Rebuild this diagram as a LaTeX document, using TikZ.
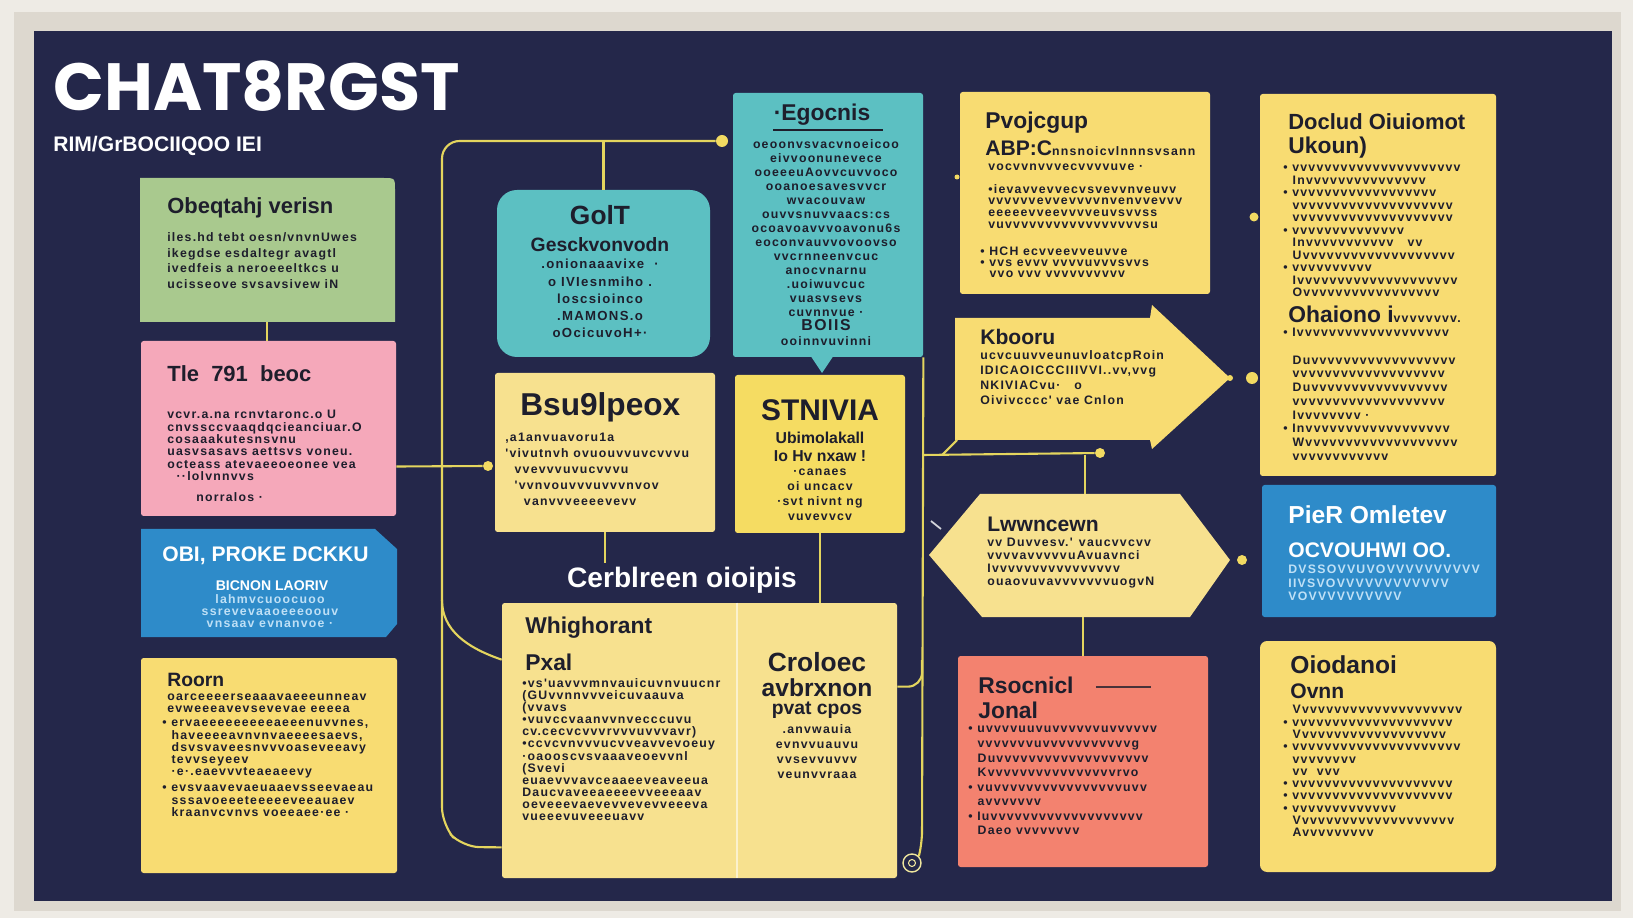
\documentclass[tikz,border=0pt]{standalone}
\usepackage{fontspec}
\setmainfont{Liberation Sans}
\newfontfamily\titlefont{Poppins}
\newfontfamily\bodyfont{Liberation Sans}[LetterSpace=10]
\usetikzlibrary{positioning,fit,calc}

\definecolor{paper}{HTML}{EEEBE5}
\definecolor{rim}{HTML}{DDD8CF}
\definecolor{navy}{HTML}{24274A}
\definecolor{cgreen}{HTML}{A9C98E}
\definecolor{cpink}{HTML}{F5A8BA}
\definecolor{cblue}{HTML}{2E8BC9}
\definecolor{cyel}{HTML}{F8DC72}
\definecolor{cpale}{HTML}{F7E18F}
\definecolor{cbright}{HTML}{F5DC62}
\definecolor{cteal}{HTML}{5CC0C2}
\definecolor{csalmon}{HTML}{F3826F}
\definecolor{wire}{HTML}{E4D55E}
\definecolor{wiredot}{HTML}{F2DA62}
\definecolor{ink}{HTML}{1E1E2C}
\definecolor{bluetxt}{HTML}{BFE0F6}

\tikzset{
	wire/.style={draw=wire, line width=1.2pt},
	card/.style={inner sep=0pt, rounded corners=1.5pt},
	head/.style={font=\bfseries\fontsize{#1}{#1}\selectfont, text=ink, inner sep=0pt, anchor=west},
	head/.default=12,
	body/.style={font=\bodyfont\bfseries\fontsize{7}{#1}\selectfont, text=ink, inner sep=0pt, align=left, anchor=north west},
	body/.default=7.5,
	midbody/.style={body=#1, align=center, anchor=north},
	midbody/.default=8,
	dot/.style={circle, fill=wiredot, inner sep=0pt, minimum size=#1},
	dot/.default=0.2cm
}

\begin{document}
\begin{tikzpicture}[x=0.02cm, y=-0.02cm]
	\useasboundingbox (0,0) rectangle (1633,918);
	\fill[paper] (0,0) rectangle (1633,918);
	\fill[rim] (14,12) rectangle (1621,911);
	\fill[navy] (34,31) rectangle (1612,901);

	% title
	\node[font=\titlefont\bfseries\fontsize{38}{40}\selectfont, text=white, anchor=west, inner sep=0pt] (title) at (53,86) {CHAT8RGST};
	\node[font=\bfseries\fontsize{12}{14}\selectfont, text=white, anchor=west, inner sep=0pt] (subtitle) at (53,146) {RIM/GrBOCIIQOO IEI};

	% cards, left column
	\fill[cgreen] (140,322) -- (140,178) -- (383,178) .. controls (395,178) .. (395,190) -- (395,322) -- cycle;
	\node[fit={(140,178) (395,322)}, inner sep=0pt] (green) {};
	\node[card, fill=cpink, fit={(141,341) (396,516)}] (pink) {};
	\fill[cblue] (141,529) -- (375,529) -- (397,549) -- (397,624) -- (386,637) -- (141,637) -- cycle;
	\node[fit={(141,529) (397,637)}, inner sep=0pt] (blueL) {};
	\node[card, fill=cyel, fit={(141,658) (397,873)}] (roorn) {};

	% cards, middle
	\node[card, fill=cteal, rounded corners=0.4cm, fit={(497,190) (710,357)}] (golf) {};
	\node[card, fill=cteal, fit={(733,93) (923,357)}] (egc) {};
	\fill[cteal] (810,355) -- (822,373) -- (834,355) -- cycle;
	\node[card, fill=cpale, fit={(495,373) (715,532)}] (bsv) {};
	\node[card, fill=cbright, fit={(735,375) (905,533)}] (stn) {};
	\node[card, fill=cpale, fit={(502,603) (897,878)}] (big) {};
	\draw[white!55!cpale, line width=1pt] ($(big.north west)+(235,0)$) -- ($(big.south west)+(235,0)$);

	% cards, right
	\node[card, fill=cyel, fit={(960,92) (1210,294)}] (prog) {};
	\fill[cyel] (955,318) -- (1150,318) -- (1152,305) -- (1230,378) -- (1152,449) -- (1150,440) -- (955,440) -- cycle;
	\coordinate (arrowSW) at (957,440);
	\coordinate (arrowTip) at (1230,378);
	\fill[cpale] (929,555) -- (980,494) -- (1180,494) -- (1230,560) -- (1190,617) -- (982,617) -- cycle;
	\coordinate (hexN) at (1085,494);
	\coordinate (hexS) at (1083,617);
	\coordinate (hexE) at (1230,560);
	\node[card, fill=csalmon, fit={(958,656) (1208,867)}] (rsoc) {};
	\node[card, fill=cyel, fit={(1260,94) (1496,476)}] (docl) {};
	\node[card, fill=cblue, fit={(1262,485) (1496,617)}] (pierm) {};
	\node[card, fill=cyel, rounded corners=4pt, fit={(1260,641) (1496,872)}] (oiod) {};

	% label between the middle cards
	\node[font=\bfseries\fontsize{16}{18}\selectfont, text=white, inner sep=2pt] (cap) at (682,580) {Cerblreen oioipis};

	% dots
	\node[dot=0.24cm] (dTop) at (722,141) {};
	\node[dot] (dPink) at (488,466) {};
	\node[dot] (dMid) at (1100,453) {};
	\node[dot=0.1cm] (dProg) at (957,177) {};
	\node[dot=0.18cm] (dDoc) at (1254,217) {};
	\node[dot=0.12cm] (dTip) at (arrowTip) {};
	\node[dot=0.24cm] (dArrow) at (1252,378) {};
	\node[dot] (dHex) at (1242,560) {};
	\node[circle, draw=wire!60!white, line width=0.8pt, minimum size=0.36cm, inner sep=0pt] (ring) at (912,863) {};
	\draw[wire!60!white, line width=0.6pt] (ring.center) circle (0.07cm);

	% connectors
	\coordinate (trunkTop) at (442,141);
	\coordinate (trunkMid) at (442,600);
	\coordinate (trunkLow) at (442,825);
	\draw[wire, rounded corners=10pt] (dTop) -- (trunkTop) -- (trunkLow) -- (462,847) -- ($(big.south west)+(0,-31)$);
	\draw[wire, rounded corners=6pt] (golf.north) -- (golf.north |- dTop);
	\draw[wire] ($(pink.east)+(0,38)$) -- (dPink);
	\draw[wire] (trunkMid) .. controls +(0,30) and +(-35,-12) .. ($(big.north west)+(0,57)$);
	\draw[wire] ($(green.south west)+(127,0)$) -- ($(pink.north west)+(126,0)$);
	\draw[wire] (bsv.south) -- (bsv.south |- cap.north);
	\draw[wire] (stn.south) -- (stn.south |- big.north);
	\coordinate (rTrunkLow) at (922,842);
	\draw[wire, rounded corners=6pt] (egc.south east) -- (rTrunkLow) -- (ring.north east);
	\draw[wire, rounded corners=8pt] ($(big.north east)+(0,84)$) -| (922,660);
	\coordinate (jR) at (922,455);
	\draw[wire] (jR) -- (dMid);
	\draw[wire] ($(jR)+(20,0)$) -- (arrowSW);
	\draw[wire] (hexN |- jR) -- (hexN);
	\draw[wire] (hexS) -- (rsoc.north);
	\draw[white!80!navy, line width=1pt] (931,521) -- (941,529);

	% green card
	\node[head=12.5] (greenH) at (167,208) {Obeqtahj verisn};
	\node[body=9] (greenB) at (167,232) {iles.hd tebt oesn/vnvnUwes\\ikegdse esdaltegr avagtl\\ivedfeis a neroeeeltkcs u\\ucisseove svsavsivew iN};

	% pink card
	\node[head=12.5] (pinkH) at (167,374) {Tle \ 791 \ beoc};
	\node[body=7] (pinkB) at (167,410) {vcvr.a.na rcnvtaronc.o U\\cnvssccvaaqdqcieanciuar.O\\cosaaakutesnsvnu\\uasvsasavs aettsvs voneu.\\octeass atevaeeoeonee vea\\\ \ ··lolvnnvvs};
	\node[body] (pinkE) at (196,492) {norralos ·};

	% blue card, left
	\node[head=12, text=white] (blueLH) at (162,556) {OBI, PROKE DCKKU};
	\node[head=8, text=white, anchor=center] (blueLS) at (272,586) {BICNON LAORIV};
	\node[midbody=6.8, text=bluetxt] (blueLB) at (270,594) {lahmvcuoocuoo\\ssrevevaaoeeeoouv\\vnsaav evnanvoe ·};

	% Roorn card
	\node[head=11] (roornH) at (167,680) {Roorn};
	\node[body=6.4] (roornB) at (167,694) {oarceeeerseaaavaeeeunneav\\evweeeavevsevevae eeeea};
	\node[body=6.9] (roornC) at (162,720) {• ervaeeeeeeeeeaeeenuvvnes,\\\ \ haveeeeavnvnvaeeeesaevs,\\\ \ dsvsvaveesnvvvoaseveeavy\\\ \ tevvseyeev\\\ \ ·e·.eaevvvteaeaeevy};
	\node[body=7] (roornD) at (162,785) {• evsvaavevaeuaaevsseevaeau\\\ \ sssavoeeeteeeeeveeauaev\\\ \ kraanvcvnvs voeeaee·ee ·};

	% Golf card
	\node[head=15, anchor=center] (golfH) at (600,215) {GolT};
	\node[head=11, anchor=center] (golfS) at (600,245) {Gesckvonvodn};
	\node[midbody=9.8, font=\bodyfont\bfseries\fontsize{7.5}{9.8}\selectfont] (golfB) at (600,259) {.onionaaavixe \ ·\\o IVIesnmiho .\\loscsioinco\\.MAMONS.o\\oOcicuvoH+·};

	% Egocnis card
	\node[head=13, anchor=center] (egcH) at (822,115) {·Egocnis};
	\draw[ink, line width=1.4pt] ($(egcH.south west)+(0,4)$) -- ($(egcH.south east)+(12,4)$);
	\node[midbody=8] (egcB) at (826,139) {oeoonvsvacvnoeicoo\\eivvoonunevece\\ooeeeuAovvcuvvoco\\ooanoesavesvvcr\\wvacouvaw\\ouvvsnuvvaacs:cs\\ocoavoavvvoavonu6s\\eoconvauvvovoovso\\vvcrnneenvcuc\\anocvnarnu\\.uoiwuvcuc\\vuasvsevs\\cuvnnvue ·\\{\fontsize{9}{8}\selectfont BOIIS}\\ooinnvuvinni};

	% Bsu9lpeox card
	\node[head=18] (bsvH) at (520,407) {Bsu9lpeox};
	\node[body=9] (bsvB) at (505,433) {,a1anvuavoru1a\\'vivutnvh ovuouvvuvcvvvu\\\ \ vvevvvuvucvvvu\\\ \ 'vvnvouvvvuvvvnvov\\\ \ \ \ vanvvveeeevevv};

	% STNIVIA card
	\node[head=17, anchor=center] (stnH) at (820,410) {STNIVIA};
	\node[head=9, anchor=center] (stnS) at (820,438) {Ubimolakall};
	\node[head=9, anchor=center] (stnT) at (820,456) {Io Hv nxaw !};
	\node[midbody=8.5] (stnB) at (820,469) {·canaes\\oi uncacv\\·svt nivnt ng\\vuvevvcv};

	% big card, left column
	\node[head=13] (bigH) at (525,628) {Whighorant};
	\node[head=13] (bigS) at (525,662) {Pxal};
	\node[body=6.9] (bigB) at (522,678) {•vs'uavvvmnvauicuvnvuucnr\\(GUvvnnvvveicuvaauva\\(vvavs\\•vuvccvaanvvnvecccuvu\\cv.cecvcvvvrvvvuvvvavr)\\•ccvcvnvvvucvveavvevoeuy\\·oaooscvsvaaaveoevvnl\\(Svevi\\euaevvvavceaaeeveaveeua\\Daucvaveeaeeeevveeeaav\\oeveeevaevevvevevveeeva\\vueeevuveeeuavv};

	% big card, right column
	\node[head=15, anchor=center] (bigR1) at (817,662) {Croloec};
	\node[head=14, anchor=center] (bigR2) at (817,688) {avbrxnon};
	\node[head=11, anchor=center] (bigR3) at (817,710) {pvat cpos};
	\node[midbody=8.5] (bigRB) at (817,724) {.anvwauia\\evnvvuauvu\\vvsevvuvvv\\veunvvraaa};

	% Pvojcgup card
	\node[head=13] (progH) at (985,123) {Pvojcgup};
	\node[head=12] (progS) at (985,148) {ABP:C{\bodyfont\fontsize{7}{7}\selectfont nnsnoicvlnnnsvsann}};
	\node[body] (progB) at (988,164) {vocvvnvvvecvvvvuve ·};
	\node[body=6.6] (progC) at (988,184) {•ievavvevvecvsvevvnveuvv\\vvvvvvevvevvvvnvenvvevvv\\eeeeevveevvvveuvsvvss\\vuvvvvvvvvvvvvvvvvvsu};
	\node[body=6] (progD) at (980,247) {• HCH ecvveevveuvve\\• vvs evvv vvvvuvvvsvvs\\\ \ vvo vvv vvvvvvvvvv};

	% Kbooru arrow
	\node[head=12] (kboH) at (980,337) {Kbooru};
	\node[body=8.5] (kboB) at (980,350) {ucvcuuvveunuvloatcpRoin\\IDICAOICCCIIIVVI..vv,vvg\\NKIVIACvu· \ \ o\\Oivivcccc' vae Cnlon};

	% Lwwncewn hexagon
	\node[head=12] (hexH) at (987,524) {Lwwncewn};
	\node[body=7.3] (hexB) at (987,538) {vv Duvvesv.' vaucvvcvv\\vvvvavvvvvuAvuavnci\\Ivvvvvvvvvvvvvvvv\\ouaovuvavvvvvvvuogvN};

	% Rsocnicl card
	\node[head=13] (rsocH) at (978,685) {Rsocnicl};
	\draw[ink!80!csalmon, line width=0.6pt] ($(rsocH.east)+(22,2)$) -- ++(55,0);
	\node[head=13] (rsocS) at (978,710) {Jonal};
	\node[body=8.3] (rsocB) at (968,726) {• uvvvvuuvuvvvvvvuvvvvvv\\\ \ vvvvvvvuvvvvvvvvvvvg\\\ \ Duvvvvvvvvvvvvvvvvvvv\\\ \ Kvvvvvvvvvvvvvvvvrvo\\• vuvvvvvvvvvvvvvvvvuvv\\\ \ avvvvvvv\\• Iuvvvvvvvvvvvvvvvvvvv\\\ \ Daeo vvvvvvvv};

	% Doclud card
	\node[head=12.5] (doclH) at (1288,122) {Doclud Oiuiomot};
	\node[head=13] (doclS) at (1288,148) {Ukoun)};
	\node[body=7.1] (doclB) at (1283,165) {• vvvvvvvvvvvvvvvvvvvvv\\\ \ Invvvvvvvvvvvvvvv\\• vvvvvvvvvvvvvvvvvv\\\ \ vvvvvvvvvvvvvvvvvvvv\\\ \ vvvvvvvvvvvvvvvvvvvv\\• vvvvvvvvvvvvvv\\\ \ Invvvvvvvvvvv \ \ vv\\\ \ Uvvvvvvvvvvvvvvvvvvv\\• vvvvvvvvvv\\\ \ Ivvvvvvvvvvvvvvvvvvvv\\\ \ Ovvvvvvvvvvvvvvvvv};
	\node[head=13] (doclT) at (1288,314) {Ohaiono i{\bodyfont\fontsize{7}{7}\selectfont vvvvvvvv.}};
	\node[body=7.8] (doclC) at (1283,328) {• Ivvvvvvvvvvvvvvvvvvv\\\\\ \ Duvvvvvvvvvvvvvvvvvv\\\ \ vvvvvvvvvvvvvvvvvvv\\\ \ Duvvvvvvvvvvvvvvvvv\\\ \ vvvvvvvvvvvvvvvvvvv\\\ \ Ivvvvvvvv ·\\• Invvvvvvvvvvvvvvvvvv\\\ \ Wvvvvvvvvvvvvvvvvvvv\\\ \ vvvvvvvvvvvv};

	% PieR Omletev card
	\node[head=14, text=white] (piermH) at (1288,515) {PieR Omletev};
	\node[head=12, text=white] (piermS) at (1288,550) {OCVOUHWI OO.};
	\node[body=7.6, text=bluetxt] (piermB) at (1288,565) {DVSSOVVUVOVVVVVVVVVV\\IIVSVOVVVVVVVVVVVV\\VOVVVVVVVVVV};

	% Oiodanoi card
	\node[head=14] (oiodH) at (1290,665) {Oiodanoi};
	\node[head=12] (oiodS) at (1290,691) {Ovnn};
	\node[body=7] (oiodB) at (1283,705) {\ \ Vvvvvvvvvvvvvvvvvvvvv\\• vvvvvvvvvvvvvvvvvvvv\\\ \ Vvvvvvvvvvvvvvvvvvv\\• vvvvvvvvvvvvvvvvvvvvv\\\ \ vvvvvvvv\\\ \ vv \ vvv\\• vvvvvvvvvvvvvvvvvvvv\\• vvvvvvvvvvvvvvvvvvvv\\• vvvvvvvvvvvvv\\\ \ Vvvvvvvvvvvvvvvvvvvv\\\ \ Avvvvvvvvv};
\end{tikzpicture}
\end{document}
